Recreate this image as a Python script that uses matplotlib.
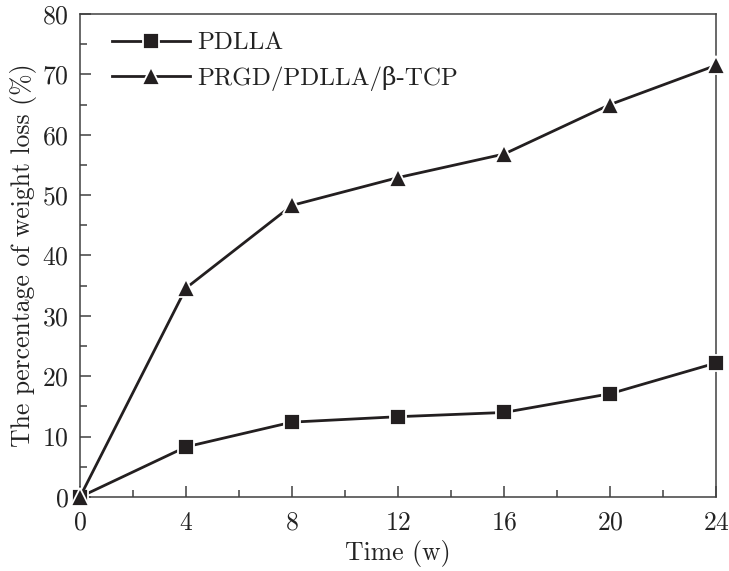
import numpy as np
import matplotlib.pyplot as plt
from matplotlib.ticker import MultipleLocator

plt.rcParams['font.family'] = ['cmr10', 'DejaVu Serif']
plt.rcParams['axes.formatter.use_mathtext'] = True

# datos
tiempo = [0, 4, 8, 12, 16, 20, 24]
pdlla = [0, 8.3, 12.4, 13.3, 14.0, 17.1, 22.2]
prgd = [0, 34.6, 48.3, 52.9, 56.8, 65.0, 71.5]

color = '#231f20'
fs = 18.5

fig = plt.figure(figsize=(7.29, 5.71), dpi=100)
ax = fig.add_axes([0.1097, 0.1296, 0.8725, 0.8459])

ax.plot(tiempo, pdlla, '-s', color=color, lw=2.0, ms=11,
        mfc=color, mec='white', mew=1.3, label='PDLLA', clip_on=False, zorder=3)
ax.plot(tiempo, prgd, '-^', color=color, lw=2.0, ms=13,
        mfc=color, mec='white', mew=1.3, label='PRGD/PDLLA/β-TCP', clip_on=False, zorder=3)

ax.set_xlim(0, 24)
ax.set_ylim(0, 80)
ax.set_xticks(np.arange(0, 25, 4))
ax.set_yticks(np.arange(0, 81, 10))
ax.xaxis.set_minor_locator(MultipleLocator(2))
ax.yaxis.set_minor_locator(MultipleLocator(5))
ax.tick_params(which='both', direction='in', top=False, right=False,
               labelsize=fs, color='#404040', labelcolor='#222222')
ax.tick_params(axis='x', pad=10)
ax.tick_params(axis='y', pad=8)
ax.tick_params(which='major', length=8, width=1.1)
ax.tick_params(which='minor', length=5, width=1.1)
for s in ax.spines.values():
    s.set_color('#404040')
    s.set_linewidth(1.1)

ax.set_xlabel('Time (w)', fontsize=fs, labelpad=4, color='#222222')
ax.set_ylabel('The percentage of weight loss (%)', fontsize=fs, labelpad=4, color='#222222')

leg = ax.legend(loc='upper left', frameon=False, fontsize=18, handlelength=3.1,
                handletextpad=0.3, labelspacing=0.45, borderaxespad=0.9,
                bbox_to_anchor=(0.0, 1.03))
for t in leg.get_texts():
    t.set_color('#222222')

fig.savefig('out.png', dpi=100)
